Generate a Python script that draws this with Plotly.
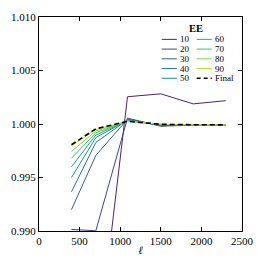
import plotly.graph_objects as go

# ---- data ----
ell = [400, 700, 1090, 1500, 1900, 2300]
ee_labels = ["10", "20", "30", "40", "50", "60", "70", "80", "90"]
ee10 = [0.9750, 0.9776, 1.00255, 1.00282, 1.00188, 1.00218]
ee20 = [0.99015, 0.99002, 1.00055, 0.99979, 0.99990, 0.99990]
ee30 = [0.99200, 0.99706, 1.00045, 0.99985, 0.99991, 0.99991]
ee40 = [0.99366, 0.99827, 1.00040, 0.99990, 0.99992, 0.99991]
ee50 = [0.99500, 0.99873, 1.00035, 0.99993, 0.99992, 0.99991]
ee60 = [0.99600, 0.99897, 1.00030, 0.99995, 0.99992, 0.99992]
ee70 = [0.99680, 0.99918, 1.00028, 0.99996, 0.99992, 0.99992]
ee80 = [0.99745, 0.99934, 1.00027, 0.99996, 0.99993, 0.99992]
ee90 = [0.99797, 0.99948, 1.00025, 0.99997, 0.99993, 0.99992]
final = [0.99806, 0.99955, 1.00025, 0.99997, 0.99993, 0.99992]
series = [ee10, ee20, ee30, ee40, ee50, ee60, ee70, ee80, ee90]
colors = ["#482475", "#414487", "#355f8d", "#2a788e", "#21918c",
          "#22a884", "#44bf70", "#7ad151", "#bddf26"]
x_ticks = [0, 500, 1000, 1500, 2000, 2500]
y_ticks = [0.990, 0.995, 1.000, 1.005, 1.010]

FONT = "Liberation Serif"
W, H = 265, 266
ML, MR, MT, MB = 34, 16, 11, 35
PW, PH = W - ML - MR, H - MT - MB

fig = go.Figure()
for lab, ys, c in zip(ee_labels, series, colors):
    fig.add_trace(go.Scatter(x=ell, y=ys, mode="lines", name=lab,
                             line=dict(color=c, width=1), showlegend=False))
fig.add_trace(go.Scatter(x=ell, y=final, mode="lines", name="Final",
                         line=dict(color="black", width=1.6, dash="5px,3px"),
                         showlegend=False))

# manual two-column legend (matplotlib style)
def px2paper(px, py):
    return (px - ML) / PW, (H - MB - py) / PH

shapes = []
annotations = []
tx, ty = px2paper(200, 23)
annotations.append(dict(x=tx, y=ty, xref="paper", yref="paper", text="<b>EE</b>",
                        showarrow=False, xanchor="center", yanchor="middle",
                        font=dict(family=FONT, size=10.5, color="black")))
entries = list(zip(ee_labels, colors, ["solid"] * 9, [1] * 9)) + [("Final", "black", "4px,3px", 1.6)]
for i, (lab, c, dash, w) in enumerate(entries):
    col, row = divmod(i, 5)
    py = 34 + 10 * row
    x0 = 164 + 37 * col
    x1 = x0 + 16
    a0, b0 = px2paper(x0, py)
    a1, _ = px2paper(x1, py)
    shapes.append(dict(type="line", xref="paper", yref="paper", x0=a0, x1=a1, y0=b0, y1=b0,
                       line=dict(color=c, width=w, dash=dash)))
    t0, _ = px2paper(x1 + 1, py)
    annotations.append(dict(x=t0, y=b0, xref="paper", yref="paper", text=lab,
                            showarrow=False, xanchor="left", yanchor="middle",
                            font=dict(family=FONT, size=9, color="black")))

axis_common = dict(showline=True, linecolor="black", linewidth=1, mirror="ticks",
                   ticks="inside", ticklen=4, tickcolor="black", tickwidth=1,
                   showgrid=False, zeroline=False,
                   tickfont=dict(family=FONT, size=11, color="black"))
fig.update_layout(
    width=W, height=H,
    margin=dict(l=ML, r=MR, t=MT, b=MB),
    paper_bgcolor="white", plot_bgcolor="white",
    font=dict(family=FONT, size=11, color="black"),
    xaxis=dict(range=[0, 2500], tickvals=x_ticks, ticktext=[str(v) for v in x_ticks],
               title=dict(text="<i>ℓ</i>", standoff=0, font=dict(family=FONT, size=11)),
               **axis_common),
    yaxis=dict(range=[0.990, 1.010], tickvals=y_ticks,
               ticktext=[f"{v:.3f}" for v in y_ticks], **axis_common),
    shapes=shapes, annotations=annotations,
    showlegend=False,
)
fig.write_html("out.html", config={"displayModeBar": False},
               post_script="document.body.style.margin='0';document.body.style.padding='0';")
